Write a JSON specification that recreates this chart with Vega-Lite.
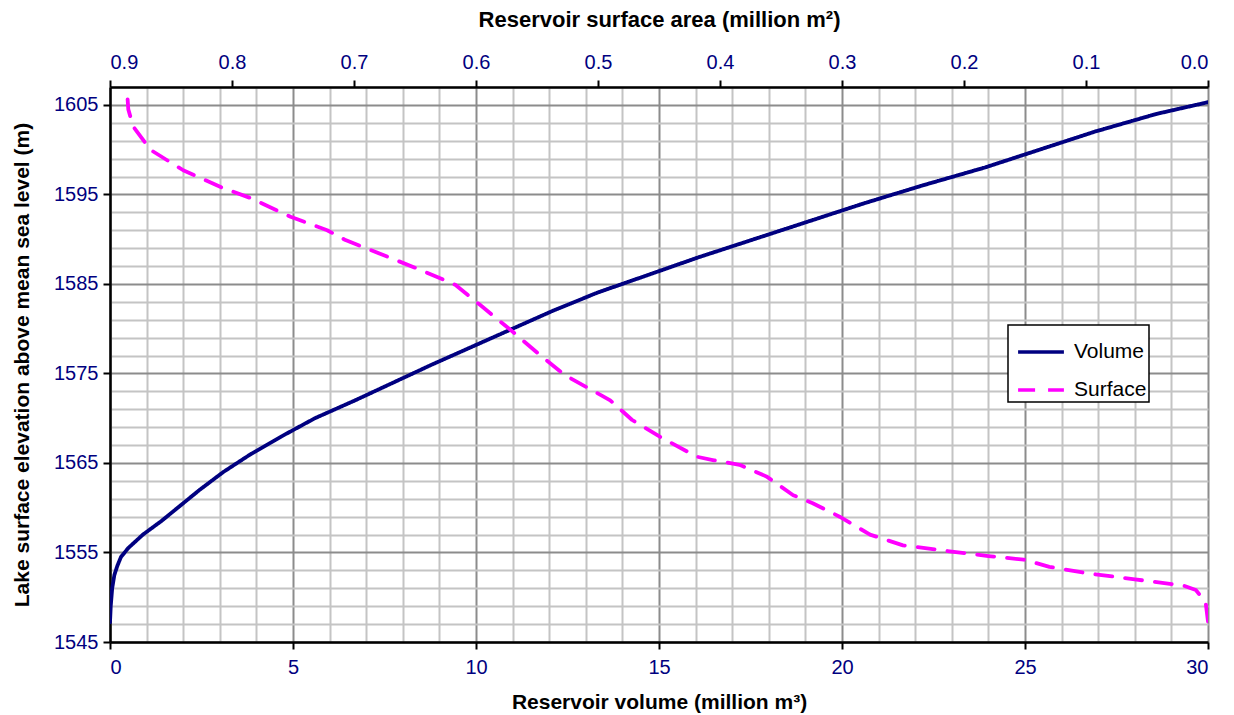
{
  "$schema": "https://vega.github.io/schema/vega-lite/v6.json",
  "width": 1098,
  "height": 555,
  "autosize": {"type": "none"},
  "padding": {"left": 110, "top": 87, "right": 26, "bottom": 73},
  "background": "white",
  "config": {
    "view": {"stroke": null},
    "font": "Liberation Sans",
    "legend": {"strokeWidth": 1.5},
    "axis": {
      "labelFont": "Liberation Sans",
      "labelColor": "#000080",
      "labelFontSize": 20,
      "titleFont": "Liberation Sans",
      "titleFontSize": 21,
      "titleFontWeight": "bold",
      "titleColor": "black",
      "domainColor": "black",
      "domainWidth": 2.5,
      "tickColor": "black",
      "tickWidth": 2,
      "tickSize": 7
    }
  },
  "datasets": {
    "volume": [
      {"series": "Volume", "elev": 1547.2, "vol": 0},
      {"series": "Volume", "elev": 1549, "vol": 0.02},
      {"series": "Volume", "elev": 1551, "vol": 0.06},
      {"series": "Volume", "elev": 1552.5, "vol": 0.12},
      {"series": "Volume", "elev": 1553.5, "vol": 0.2},
      {"series": "Volume", "elev": 1554.5, "vol": 0.3},
      {"series": "Volume", "elev": 1555.5, "vol": 0.5},
      {"series": "Volume", "elev": 1557, "vol": 0.9},
      {"series": "Volume", "elev": 1558.5, "vol": 1.4},
      {"series": "Volume", "elev": 1560, "vol": 1.85},
      {"series": "Volume", "elev": 1562, "vol": 2.45},
      {"series": "Volume", "elev": 1564, "vol": 3.1},
      {"series": "Volume", "elev": 1566, "vol": 3.85},
      {"series": "Volume", "elev": 1568, "vol": 4.7},
      {"series": "Volume", "elev": 1570, "vol": 5.6},
      {"series": "Volume", "elev": 1572, "vol": 6.7},
      {"series": "Volume", "elev": 1574, "vol": 7.75},
      {"series": "Volume", "elev": 1576, "vol": 8.8},
      {"series": "Volume", "elev": 1578, "vol": 9.9},
      {"series": "Volume", "elev": 1580, "vol": 11.0},
      {"series": "Volume", "elev": 1582, "vol": 12.1},
      {"series": "Volume", "elev": 1584, "vol": 13.3},
      {"series": "Volume", "elev": 1586, "vol": 14.7},
      {"series": "Volume", "elev": 1588, "vol": 16.1},
      {"series": "Volume", "elev": 1590, "vol": 17.6},
      {"series": "Volume", "elev": 1592, "vol": 19.1},
      {"series": "Volume", "elev": 1594, "vol": 20.6},
      {"series": "Volume", "elev": 1596, "vol": 22.2},
      {"series": "Volume", "elev": 1598, "vol": 23.9},
      {"series": "Volume", "elev": 1600, "vol": 25.4},
      {"series": "Volume", "elev": 1602, "vol": 26.9},
      {"series": "Volume", "elev": 1604, "vol": 28.6},
      {"series": "Volume", "elev": 1605.3, "vol": 30}
    ],
    "surface": [
      {"series": "Surface", "elev": 1547.3, "area": 0.0},
      {"series": "Surface", "elev": 1549.5, "area": 0.002},
      {"series": "Surface", "elev": 1550.8, "area": 0.01},
      {"series": "Surface", "elev": 1551.3, "area": 0.02},
      {"series": "Surface", "elev": 1552.0, "area": 0.06},
      {"series": "Surface", "elev": 1552.7, "area": 0.1},
      {"series": "Surface", "elev": 1553.4, "area": 0.13},
      {"series": "Surface", "elev": 1554.2, "area": 0.151},
      {"series": "Surface", "elev": 1554.6, "area": 0.18},
      {"series": "Surface", "elev": 1555.1, "area": 0.21},
      {"series": "Surface", "elev": 1555.8, "area": 0.25},
      {"series": "Surface", "elev": 1557.0, "area": 0.277},
      {"series": "Surface", "elev": 1559.0, "area": 0.302},
      {"series": "Surface", "elev": 1560.5, "area": 0.324},
      {"series": "Surface", "elev": 1561.4, "area": 0.34},
      {"series": "Surface", "elev": 1563.5, "area": 0.362},
      {"series": "Surface", "elev": 1564.8, "area": 0.384},
      {"series": "Surface", "elev": 1565.3, "area": 0.405},
      {"series": "Surface", "elev": 1565.7, "area": 0.419},
      {"series": "Surface", "elev": 1567.9, "area": 0.449},
      {"series": "Surface", "elev": 1569.8, "area": 0.472},
      {"series": "Surface", "elev": 1572.0, "area": 0.49},
      {"series": "Surface", "elev": 1574.8, "area": 0.527},
      {"series": "Surface", "elev": 1577.1, "area": 0.548},
      {"series": "Surface", "elev": 1579.9, "area": 0.572},
      {"series": "Surface", "elev": 1582.7, "area": 0.597},
      {"series": "Surface", "elev": 1584.9, "area": 0.617},
      {"series": "Surface", "elev": 1586.6, "area": 0.646},
      {"series": "Surface", "elev": 1589.9, "area": 0.707},
      {"series": "Surface", "elev": 1591.0, "area": 0.722},
      {"series": "Surface", "elev": 1592.5, "area": 0.752},
      {"series": "Surface", "elev": 1594.6, "area": 0.785},
      {"series": "Surface", "elev": 1595.7, "area": 0.807},
      {"series": "Surface", "elev": 1597.7, "area": 0.84},
      {"series": "Surface", "elev": 1600.0, "area": 0.867},
      {"series": "Surface", "elev": 1602.6, "area": 0.881},
      {"series": "Surface", "elev": 1604.5, "area": 0.885},
      {"series": "Surface", "elev": 1606.5, "area": 0.886}
    ]
  },
  "encoding": {
    "y": {
      "field": "elev",
      "type": "quantitative",
      "scale": {"domain": [1545, 1607], "nice": false, "zero": false},
      "axis": {
        "title": "Lake surface elevation above mean sea level (m)",
        "values": [1545, 1547, 1549, 1551, 1553, 1555, 1557, 1559, 1561, 1563, 1565, 1567, 1569, 1571, 1573, 1575, 1577, 1579, 1581, 1583, 1585, 1587, 1589, 1591, 1593, 1595, 1597, 1599, 1601, 1603, 1605, 1607],
        "format": "d",
        "labelExpr": "(datum.value - 1545) % 10 === 0 ? datum.label : ''",
        "grid": true,
        "gridWidth": 2,
        "gridColor": {"condition": {"test": "(datum.value - 1545) % 10 === 0", "value": "#8c8c8c"}, "value": "#c4c4c4"},
        "tickOpacity": {"condition": {"test": "(datum.value - 1545) % 10 === 0", "value": 1}, "value": 0},
        "labelPadding": 5,
        "titlePadding": 21
      }
    },
    "color": {
      "field": "series",
      "type": "nominal",
      "scale": {"domain": ["Volume", "Surface"], "range": ["#000080", "#FF00FF"]},
      "legend": {
        "title": null,
        "orient": "none",
        "legendX": 898,
        "legendY": 238,
        "direction": "vertical",
        "fillColor": "white",
        "strokeColor": "black",
        "padding": 2,
        "symbolOffset": 6,
        "symbolType": "stroke",
        "symbolSize": 2100,
        "symbolStrokeWidth": 3.5,
        "labelFontSize": 21,
        "labelColor": "black",
        "labelFont": "Liberation Sans",
        "rowPadding": 3,
        "labelOffset": 8
      }
    },
    "strokeDash": {
      "field": "series",
      "type": "nominal",
      "scale": {"domain": ["Volume", "Surface"], "range": [[1, 0], [17, 13]]},
      "legend": {
        "title": null,
        "orient": "none",
        "legendX": 898,
        "legendY": 238,
        "direction": "vertical",
        "fillColor": "white",
        "strokeColor": "black",
        "padding": 2,
        "symbolOffset": 6,
        "symbolType": "stroke",
        "symbolSize": 2100,
        "symbolStrokeWidth": 3.5,
        "labelFontSize": 21,
        "labelColor": "black",
        "labelFont": "Liberation Sans",
        "rowPadding": 3,
        "labelOffset": 8
      }
    },
    "order": {"field": "elev", "type": "quantitative"}
  },
  "layer": [
    {
      "data": {"name": "volume"},
      "mark": {"type": "line", "strokeWidth": 3.8, "strokeCap": "round", "strokeJoin": "round", "clip": true},
      "encoding": {
        "x": {
          "field": "vol",
          "type": "quantitative",
          "scale": {"domain": [0, 30], "nice": false},
          "axis": {
            "orient": "bottom",
            "title": "Reservoir volume (million m³)",
            "values": [0, 1, 2, 3, 4, 5, 6, 7, 8, 9, 10, 11, 12, 13, 14, 15, 16, 17, 18, 19, 20, 21, 22, 23, 24, 25, 26, 27, 28, 29, 30],
            "labelExpr": "datum.value % 5 === 0 ? datum.label : ''",
            "grid": true,
            "gridWidth": 2,
            "gridColor": {"condition": {"test": "datum.value % 5 === 0", "value": "#8c8c8c"}, "value": "#c4c4c4"},
            "tickOpacity": {"condition": {"test": "datum.value % 5 === 0", "value": 1}, "value": 0},
            "labelPadding": 8,
            "titlePadding": 14
          }
        }
      }
    },
    {
      "data": {"name": "surface"},
      "mark": {"type": "line", "strokeWidth": 3.8, "strokeCap": "round", "strokeJoin": "round", "clip": true},
      "encoding": {
        "x": {
          "field": "area",
          "type": "quantitative",
          "scale": {"domain": [0, 0.9], "nice": false, "reverse": true},
          "axis": {
            "orient": "top",
            "title": "Reservoir surface area (million m²)",
            "titleFontSize": 22,
            "values": [0, 0.1, 0.2, 0.3, 0.4, 0.5, 0.6, 0.7, 0.8, 0.9],
            "format": ".1f",
            "grid": false,
            "labelPadding": 8,
            "titlePadding": 21
          }
        }
      }
    }
  ],
  "resolve": {"scale": {"x": "independent"}}
}
